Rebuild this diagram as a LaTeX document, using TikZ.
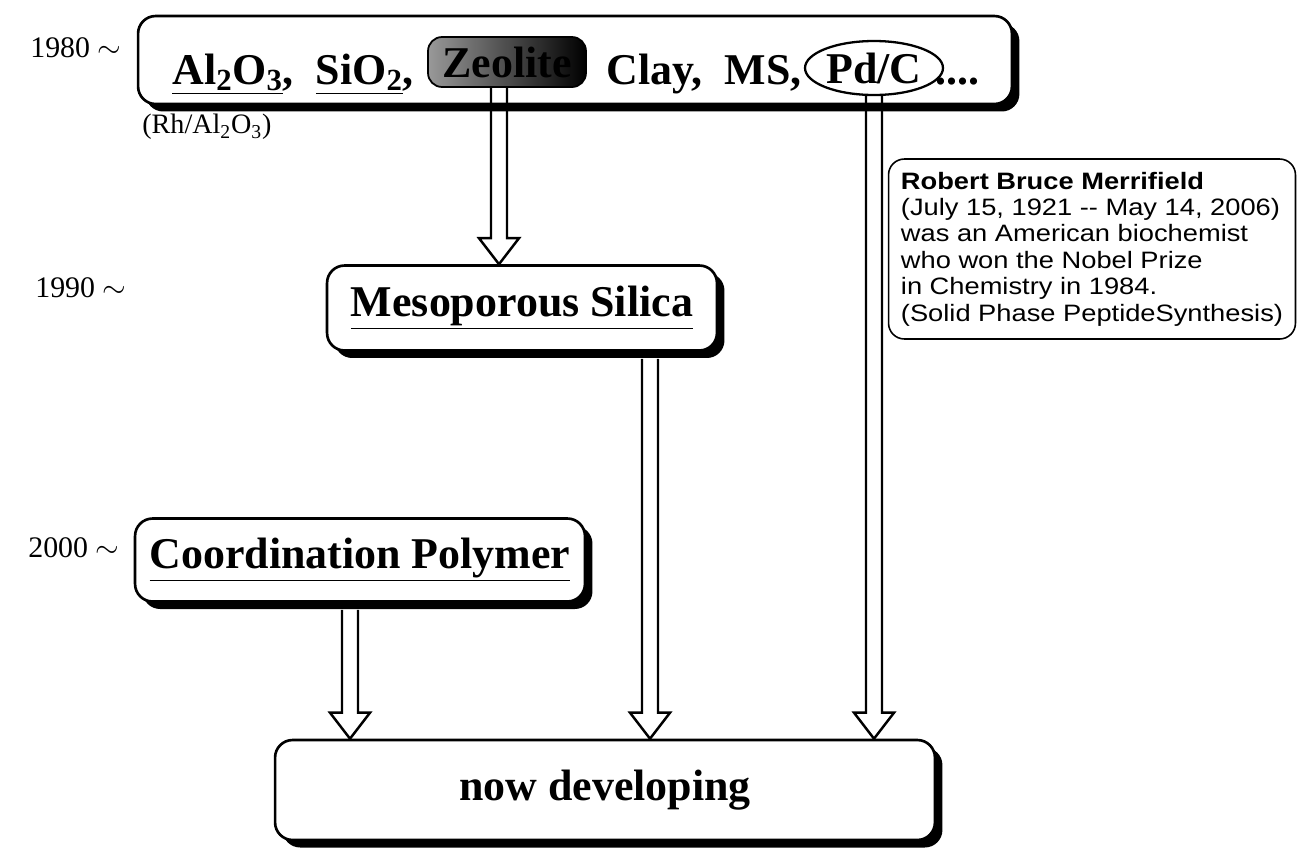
\documentclass[tikz,border=0pt]{standalone}
\usepackage{fontspec}
\setmainfont{Liberation Serif}
\newfontfamily\robfont[FakeStretch=1.15]{Liberation Sans}
\usetikzlibrary{calc}
\usetikzlibrary{shapes.geometric}
\usetikzlibrary{shadows}
\newcommand{\ShaftHalf}{8}
\newcommand{\HeadHalf}{20}
\newcommand{\HeadLen}{26}
\newcommand{\HollowArrow}[2]{
  \draw[line width=1.4pt, line join=miter]
    ($(#1) +(-\ShaftHalf,0)$) -- ($(#2) +(-\ShaftHalf,-\HeadLen)$)
    -- ($(#2) +(-\HeadHalf,-\HeadLen)$) -- (#2)
    -- ($(#2) +(\HeadHalf,-\HeadLen)$) -- ($(#2) +(\ShaftHalf,-\HeadLen)$)
    -- ($(#1) +(\ShaftHalf,0)$);
}
\newcommand{\Sub}[1]{\textsubscript{#1}}

\begin{document}
\begin{tikzpicture}[x=0.02cm,y=-0.02cm,
  era/.style={draw, line width=1.5pt, rounded corners=10pt, fill=white,
    drop shadow={shadow xshift=0.15cm, shadow yshift=-0.15cm, fill=black, opacity=1},
    font=\bfseries\fontsize{25}{28}\selectfont, inner sep=0pt},
  inbox/.style={anchor=base west, inner sep=0pt, font=\bfseries\fontsize{25}{28}\selectfont},
  year/.style={anchor=west, inner sep=0pt, font=\fontsize{17}{20}\selectfont},
  note/.style={draw, line width=0.9pt, rounded corners=9pt, align=left, inner sep=0pt,
    font=\robfont\fontsize{13.5}{15}\selectfont}]
\useasboundingbox (0,0) rectangle (1298,849);

% years
\node[year] (y1980) at (30,48) {1980 $\sim$};
\node[year] (y1990) at (35,288) {1990 $\sim$};
\node[year] (y2000) at (28,548) {2000 $\sim$};

% top row of supports
\node[era, minimum width=17.48cm, minimum height=1.76cm] (top) at (575,60) {};
\node[inbox] (alsi) at (172,84) {\underline{Al\Sub{2}O\Sub{3}},\ \ \underline{SiO\Sub{2}},};
\node[inbox, anchor=center, minimum width=3.16cm, minimum height=1.0cm, rounded corners=8pt,
  left color=black!40, right color=black, draw=black, line width=1pt] (zeo) at (507,62) {Zeolite};
\node[inbox] (clms) at (606,84) {Clay,\ \ MS,};
\node[ellipse, draw, line width=1.3pt, inner sep=0pt, minimum width=2.76cm, minimum height=1.08cm,
  font=\bfseries\fontsize{25}{28}\selectfont] (pdc) at (874,68) {Pd/C};
\node[inbox] (dots) at (935,84) {....};
\node[anchor=west, inner sep=0pt, font=\fontsize{16}{19}\selectfont] (rh) at (142,127) {(Rh/Al\Sub{2}O\Sub{3})};

% later materials
\node[era, minimum width=7.8cm, minimum height=1.7cm] (meso) at (522,308) {\underline{Mesoporous Silica}};
\node[era, minimum width=9cm, minimum height=1.66cm] (coord) at (360,560) {\underline{Coordination Polymer}};
\node[era, minimum width=13.2cm, minimum height=2cm] (now) at (605,790) {now developing};

\node[note, minimum width=8.14cm, minimum height=3.6cm] (merri) at (1092,249)
  {{\bfseries Robert Bruce Merrifield}\\
   (July 15, 1921 -- May 14, 2006)\\
   was an American biochemist\\
   who won the Nobel Prize\\
   in Chemistry in 1984.\\
   (Solid Phase PeptideSynthesis)};

% arrows
\coordinate (a1s) at ($(zeo.south) +(-8,0)$);
\coordinate (a1e) at (a1s |- meso.north);
\HollowArrow{a1s}{a1e}
\coordinate (a2s) at ($(meso.south) +(128,7)$);
\coordinate (a2e) at (a2s |- now.north);
\HollowArrow{a2s}{a2e}
\coordinate (a3s) at (pdc.south);
\coordinate (a3e) at (a3s |- now.north);
\HollowArrow{a3s}{a3e}
\coordinate (a4s) at ($(coord.south) +(-10,7)$);
\coordinate (a4e) at (a4s |- now.north);
\HollowArrow{a4s}{a4e}
\end{tikzpicture}
\end{document}
